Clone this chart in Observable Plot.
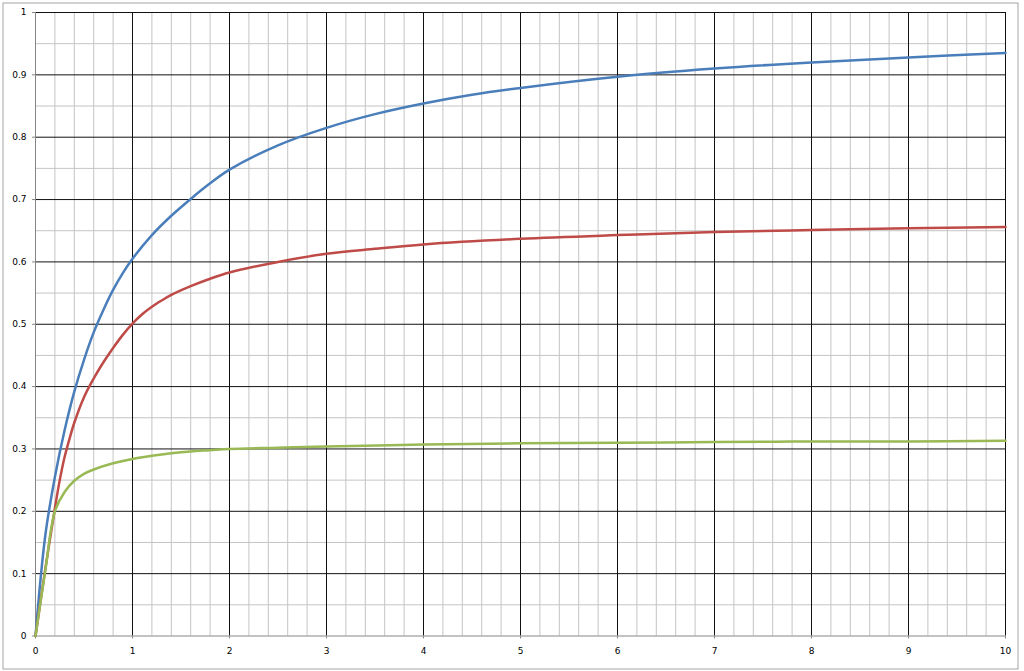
<!DOCTYPE html>
<html>
<head>
<meta charset="utf-8">
<script src="https://cdn.jsdelivr.net/npm/d3@7"></script>
<script src="https://cdn.jsdelivr.net/npm/@observablehq/plot@0.6"></script>
<style>
  html, body { margin: 0; padding: 0; background: #fff; }
  #chart svg { display: block; }
</style>
</head>
<body>
<div id="chart"></div>
<script>
// Tick labels
const xTicks = [0, 1, 2, 3, 4, 5, 6, 7, 8, 9, 10];
const yTicks = [0, 0.1, 0.2, 0.3, 0.4, 0.5, 0.6, 0.7, 0.8, 0.9, 1];
// Minor gridline positions (0.2 on x, 0.05 on y)
const xMinor = d3.range(1, 50).map(i => i / 5).filter(v => !Number.isInteger(v));
const yMinor = d3.range(1, 20, 2).map(i => i / 20);

// Series values: [x, y]
const blueSeries = [
  [0, 0], [0.1, 0.16], [0.2, 0.255], [0.3, 0.33], [0.4, 0.392], [0.5, 0.443],
  [0.6, 0.487], [0.7, 0.523], [0.8, 0.555], [0.9, 0.582], [1, 0.605], [1.2, 0.643],
  [1.4, 0.674], [1.6, 0.701], [1.8, 0.726], [2, 0.748], [2.5, 0.787], [3, 0.815],
  [3.5, 0.837], [4, 0.854], [4.5, 0.868], [5, 0.879], [6, 0.897], [7, 0.910],
  [8, 0.920], [9, 0.928], [10, 0.935]
];
const redSeries = [
  [0, 0], [0.1, 0.106], [0.2, 0.205], [0.25, 0.25], [0.3, 0.287], [0.35, 0.316],
  [0.4, 0.342], [0.5, 0.383], [0.6, 0.413], [0.7, 0.439], [0.8, 0.462], [0.9, 0.483],
  [1, 0.501], [1.1, 0.516], [1.2, 0.528], [1.3, 0.538], [1.4, 0.547], [1.6, 0.561],
  [1.8, 0.573], [2, 0.583], [2.5, 0.600], [3, 0.613], [3.5, 0.621], [4, 0.628],
  [5, 0.637], [6, 0.643], [7, 0.648], [8, 0.651], [9, 0.654], [10, 0.656]
];
const greenSeries = [
  [0, 0], [0.1, 0.104], [0.2, 0.2], [0.3, 0.231], [0.4, 0.249], [0.5, 0.26],
  [0.6, 0.267], [0.8, 0.277], [1, 0.284], [1.2, 0.289], [1.4, 0.293], [1.6, 0.296],
  [1.8, 0.298], [2, 0.3], [2.5, 0.302], [3, 0.304], [4, 0.307], [5, 0.309],
  [6, 0.31], [7, 0.311], [8, 0.312], [9, 0.312], [10, 0.313]
];
const seriesColors = ["#4A7EBB", "#BE4B48", "#98B954"];

const fmt = d3.format("~g");
const lineOpts = (color) => ({
  x: d => d[0], y: d => d[1], stroke: color, strokeWidth: 2.5,
  curve: "catmull-rom", strokeLinejoin: "round", strokeLinecap: "round"
});

const chart = Plot.plot({
  width: 1024,
  height: 671,
  marginLeft: 35,
  marginRight: 19,
  marginTop: 12,
  marginBottom: 35.5,
  style: { fontFamily: "DejaVu Sans, Verdana, sans-serif", fontSize: "9px", color: "#000", background: "#fff" },
  x: { domain: [0, 10] },
  y: { domain: [0, 1] },
  marks: [
    Plot.frame({ stroke: "#a6a6a6", insetLeft: -32.5, insetTop: -9.5, insetRight: -12.5, insetBottom: -33 }),
    Plot.ruleX(xMinor, { stroke: "#c4c4c4", strokeWidth: 1 }),
    Plot.ruleY(yMinor, { stroke: "#c4c4c4", strokeWidth: 1 }),
    Plot.ruleX(xTicks.filter(d => d > 0), { stroke: "#111", strokeWidth: 1 }),
    Plot.ruleY(yTicks.filter(d => d > 0), { stroke: "#111", strokeWidth: 1 }),
    Plot.ruleX([0], { stroke: "#868686" }),
    Plot.ruleY([0], { stroke: "#868686" }),
    Plot.axisX({ ticks: xTicks, tickFormat: fmt, tickSize: 3, tickPadding: 9, stroke: "#868686", label: null }),
    Plot.axisY({ ticks: yTicks, tickFormat: fmt, tickSize: 3, tickPadding: 6, stroke: "#868686", label: null }),
    Plot.line(blueSeries, lineOpts(seriesColors[0])),
    Plot.line(redSeries, lineOpts(seriesColors[1])),
    Plot.line(greenSeries, lineOpts(seriesColors[2]))
  ]
});
document.getElementById("chart").appendChild(chart);
</script>
</body>
</html>
